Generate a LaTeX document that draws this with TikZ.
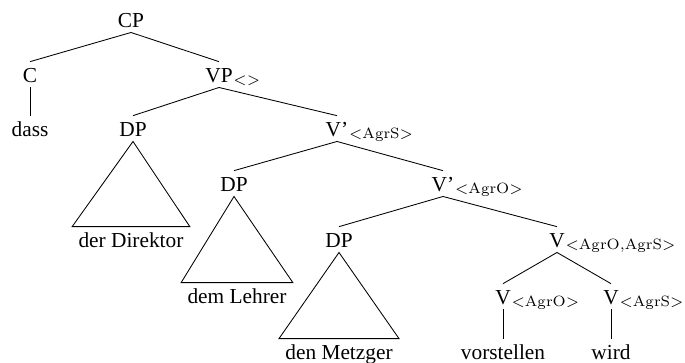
\documentclass[tikz,border=0pt]{standalone}
\usepackage[no-math]{fontspec}
\setmainfont{Liberation Serif}
\begin{document}
\begin{tikzpicture}[x=0.4685pt, y=-0.4685pt,
  cat/.style={anchor=base, inner sep=0pt, text height=9.8pt, text depth=1.9pt},
  roof/.style={cat, inner xsep=2.8pt},
  sub/.style={anchor=base west, inner sep=0pt, yshift=0.6pt}]
\useasboundingbox (0,0) rectangle (685,363);
\foreach \n/\x/\y/\t in {cp/131/28/CP, c/30/83/C, vp/219/83/VP, dass/30/137/dass,
    dpa/133/137/DP, vba/337/137/V', dpb/234/192/DP, vbb/443/192/V', dpc/339/248/DP,
    v/557/248/V, vo/503/305/V, vs/611/305/V, vor/503/360/vorstellen, wird/611/360/wird}
  \node[cat] (\n) at (\x,\y) {\t};
\foreach \n/\x/\y/\t in {dir/131/248/der Direktor, leh/237/304/dem Lehrer, metz/339/360/den Metzger}
  \node[roof] (\n) at (\x,\y) {\t};
\foreach \n/\t in {vp/{<>}, vba/{<\mathrm{AgrS}>}, vbb/{<\mathrm{AgrO}>},
    v/{<\mathrm{AgrO,AgrS}>}, vo/{<\mathrm{AgrO}>}, vs/{<\mathrm{AgrS}>}}
  \node[sub] (\n-sub) at (\n.base east) {$_{\t}$};
\foreach \a/\b in {cp/c, cp/vp, c/dass, vp/dpa, vp/vba, vba/dpb, vba/vbb,
    vbb/dpc, vbb/v, v/vo, v/vs, vo/vor, vs/wird}
  \draw (\a.south) -- (\b.north);
\foreach \a/\b in {dpa/dir, dpb/leh, dpc/metz}
  \draw (\a.south) -- (\b.north west) -- (\b.north east) -- cycle;
\end{tikzpicture}
\end{document}
